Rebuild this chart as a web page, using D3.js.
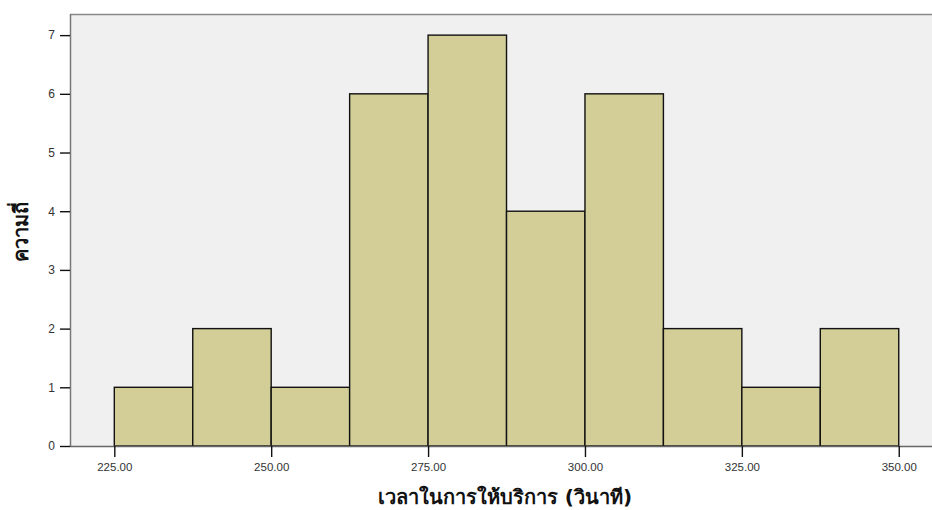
<!DOCTYPE html>
<html>
<head>
<meta charset="utf-8">
<script src="https://cdn.jsdelivr.net/npm/d3@7"></script>
<style>
  html, body { margin: 0; padding: 0; background: #fff; }
  svg { display: block; }
</style>
</head>
<body>
<svg id="chart" width="932" height="510"></svg>
<script>
// Histogram of service times (seconds), bin width 12.5
const binStarts = [225, 237.5, 250, 262.5, 275, 287.5, 300, 312.5, 325, 337.5];
const binWidth = 12.5;
const counts = [1, 2, 1, 6, 7, 4, 6, 2, 1, 2];
const xTicks = [225, 250, 275, 300, 325, 350];
const yTicks = [0, 1, 2, 3, 4, 5, 6, 7];
const xTitle = "เวลาในการให้บริการ (วินาที)";
const yTitle = "ความถี่";

const svg = d3.select("#chart");
const plotLeft = 70, plotRight = 932, plotTop = 14, plotBottom = 446;

const x = d3.scaleLinear().domain([217.94, 355.3]).range([plotLeft, plotRight]);
const y = d3.scaleLinear().domain([0, 7.36]).range([plotBottom, plotTop]);

// plot background
svg.append("rect")
  .attr("x", plotLeft).attr("y", plotTop)
  .attr("width", plotRight - plotLeft).attr("height", plotBottom - plotTop)
  .attr("fill", "#f0f0f0");

// frame lines (top and left)
svg.append("line").attr("x1", plotLeft).attr("x2", plotRight).attr("y1", plotTop + 0.5).attr("y2", plotTop + 0.5)
  .attr("stroke", "#888").attr("stroke-width", 1.5);
svg.append("line").attr("x1", plotLeft + 0.5).attr("x2", plotLeft + 0.5).attr("y1", plotTop).attr("y2", plotBottom)
  .attr("stroke", "#777").attr("stroke-width", 1.5);

// bars
svg.append("g").selectAll("rect")
  .data(binStarts.map((s, i) => ({ s, c: counts[i] })))
  .join("rect")
  .attr("x", d => x(d.s))
  .attr("y", d => y(d.c))
  .attr("width", d => x(d.s + binWidth) - x(d.s))
  .attr("height", d => y(0) - y(d.c))
  .attr("fill", "#d3ce98")
  .attr("stroke", "#111")
  .attr("stroke-width", 1.4);

// x axis
const xAxis = svg.append("g")
  .attr("transform", `translate(0,${plotBottom})`)
  .call(d3.axisBottom(x).tickValues(xTicks).tickFormat(d3.format(".2f")).tickSize(11).tickPadding(6));
xAxis.select(".domain").attr("stroke", "#666").attr("stroke-width", 1.5).attr("d", `M${plotLeft},0.5H${plotRight}`);
xAxis.selectAll(".tick line").attr("stroke", "#111").attr("stroke-width", 1.4);
xAxis.selectAll(".tick text")
  .attr("fill", "#333").attr("font-size", 11.5)
  .attr("font-family", "Arial, 'Liberation Sans', sans-serif");

// y axis
const yAxis = svg.append("g")
  .attr("transform", `translate(${plotLeft},0)`)
  .call(d3.axisLeft(y).tickValues(yTicks).tickSize(10).tickPadding(5));
yAxis.select(".domain").remove();
yAxis.selectAll(".tick line").attr("stroke", "#111").attr("stroke-width", 1.4);
yAxis.selectAll(".tick text")
  .attr("fill", "#333").attr("font-size", 12)
  .attr("font-family", "Arial, 'Liberation Sans', sans-serif");

// axis titles
svg.append("text")
  .attr("x", 505).attr("y", 504)
  .attr("text-anchor", "middle")
  .attr("font-size", 20).attr("font-weight", "bold")
  .attr("font-family", "Tahoma, 'DejaVu Sans', sans-serif")
  .attr("fill", "#111")
  .text(xTitle);

svg.append("text")
  .attr("transform", `translate(28,232) rotate(-90)`)
  .attr("text-anchor", "middle")
  .attr("font-size", 20).attr("font-weight", "bold")
  .attr("font-family", "Tahoma, 'DejaVu Sans', sans-serif")
  .attr("fill", "#111")
  .text(yTitle);
</script>
</body>
</html>
